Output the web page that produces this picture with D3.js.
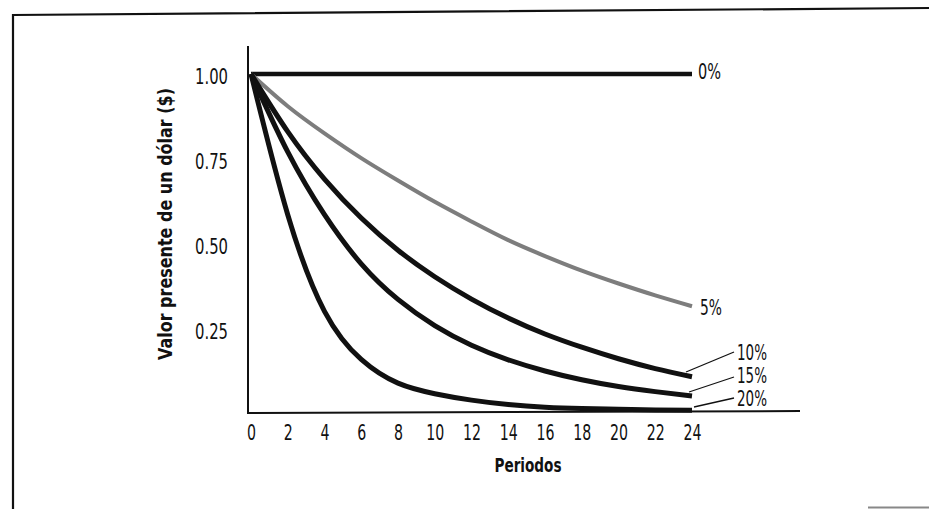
<!DOCTYPE html>
<html>
<head>
<meta charset="utf-8">
<script src="https://cdn.jsdelivr.net/npm/d3@7"></script>
<style>
  html, body { margin: 0; padding: 0; background: #fff; }
  svg { display: block; }
  text { font-family: "DejaVu Sans Condensed", "Liberation Sans Narrow", "DejaVu Sans", sans-serif; font-stretch: condensed; fill: #111; }
</style>
</head>
<body>
<svg id="chart" width="929" height="509"></svg>
<script>
// ---- data ----
const periods = [0, 2, 4, 6, 8, 10, 12, 14, 16, 18, 20, 22, 24];
const rate0  = [1, 1, 1, 1, 1, 1, 1, 1, 1, 1, 1, 1, 1];
const rate5  = [1, 0.905, 0.825, 0.752, 0.686, 0.623, 0.565, 0.51, 0.463, 0.42, 0.382, 0.347, 0.315];
const rate10 = [1, 0.83, 0.69, 0.575, 0.48, 0.402, 0.336, 0.28, 0.233, 0.194, 0.16, 0.131, 0.107];
const rate15 = [1, 0.77, 0.585, 0.44, 0.335, 0.258, 0.20, 0.157, 0.124, 0.098, 0.078, 0.063, 0.05];
const rate20 = [1, 0.585, 0.30, 0.158, 0.088, 0.057, 0.038, 0.025, 0.017, 0.013, 0.011, 0.009, 0.008];
const seriesLabels = ["0%", "5%", "10%", "15%", "20%"];
const xTicks = [0, 2, 4, 6, 8, 10, 12, 14, 16, 18, 20, 22, 24];
const yTicks = [0.25, 0.50, 0.75, 1.00];
const yTitle = "Valor presente de un dólar ($)";
const xTitle = "Periodos";

const series = [
  { label: seriesLabels[0], values: rate0,  color: "#111", width: 4.5 },
  { label: seriesLabels[1], values: rate5,  color: "#7d7d7d", width: 4 },
  { label: seriesLabels[2], values: rate10, color: "#111", width: 5 },
  { label: seriesLabels[3], values: rate15, color: "#111", width: 5 },
  { label: seriesLabels[4], values: rate20, color: "#111", width: 5 }
];

const svg = d3.select("#chart");

// frame of the scanned page
svg.append("path").attr("d", "M13,509 L13,15 L929,8").attr("fill", "none")
  .attr("stroke", "#111").attr("stroke-width", 2.2);
svg.append("line").attr("x1", 868).attr("x2", 929).attr("y1", 507.5).attr("y2", 507.5)
  .attr("stroke", "#888").attr("stroke-width", 2);

const x = d3.scaleLinear().domain([0, 24]).range([251, 692]);
const y = d3.scaleLinear().domain([0, 1]).range([413, 74]);

// axes lines
svg.append("line").attr("x1", 248).attr("x2", 248).attr("y1", 46).attr("y2", 414)
  .attr("stroke", "#111").attr("stroke-width", 2);
svg.append("line").attr("x1", 247).attr("x2", 800).attr("y1", 413).attr("y2", 411)
  .attr("stroke", "#111").attr("stroke-width", 2);

// width of condensed glyphs, to mimic the narrow typeface
const narrowWidth = s => s.split("").reduce((w, c) => w + (c === "." ? 6 : 9), 0);

// tick labels via axes
const yAxis = d3.axisLeft(y).tickValues(yTicks).tickFormat(d3.format(".2f")).tickSize(0).tickPadding(20);
const gy = svg.append("g").attr("transform", "translate(248,0)").call(yAxis);
gy.select(".domain").remove();
gy.selectAll("text").attr("font-size", 22).attr("font-family", null).attr("fill", "#111").attr("dy", "0.45em")
  .attr("textLength", function () { return narrowWidth(this.textContent); })
  .attr("lengthAdjust", "spacingAndGlyphs");

const xAxis = d3.axisBottom(x).tickValues(xTicks).tickFormat(d3.format("d")).tickSize(0).tickPadding(11);
const gx = svg.append("g").attr("transform", "translate(0,413)").call(xAxis);
gx.select(".domain").remove();
gx.selectAll("text").attr("font-size", 22).attr("font-family", null).attr("fill", "#111")
  .attr("textLength", function () { return narrowWidth(this.textContent); })
  .attr("lengthAdjust", "spacingAndGlyphs");

// curves
const line = d3.line().x((d, i) => x(periods[i])).y(d => y(d)).curve(d3.curveNatural);
series.forEach(s => {
  svg.append("path").datum(s.values).attr("d", line)
    .attr("fill", "none").attr("stroke", s.color).attr("stroke-width", s.width)
    .attr("stroke-linecap", "butt");
});

// series labels
const labelPos = [
  { lx: 698, ly: 79, w: 23, fs: 22, lead: null },
  { lx: 700, ly: 315, w: 22, fs: 22, lead: null },
  { lx: 737, ly: 360, w: 30, fs: 21, lead: [686, 372, 734, 352] },
  { lx: 737, ly: 383, w: 30, fs: 21, lead: [689, 392, 734, 377] },
  { lx: 737, ly: 406, w: 30, fs: 21, lead: [694, 407, 734, 398] }
];
series.forEach((s, i) => {
  const p = labelPos[i];
  svg.append("text").attr("x", p.lx).attr("y", p.ly).attr("font-size", p.fs)
    .attr("textLength", p.w).attr("lengthAdjust", "spacingAndGlyphs").text(s.label);
  if (p.lead) {
    svg.append("line").attr("x1", p.lead[0]).attr("y1", p.lead[1]).attr("x2", p.lead[2]).attr("y2", p.lead[3])
      .attr("stroke", "#111").attr("stroke-width", 1.3);
  }
});

// titles
svg.append("text").attr("transform", "translate(172,224) rotate(-90)")
  .attr("text-anchor", "middle").attr("font-size", 20).attr("font-weight", "bold")
  .attr("textLength", 272).attr("lengthAdjust", "spacingAndGlyphs").text(yTitle);
svg.append("text").attr("x", 528).attr("y", 472)
  .attr("text-anchor", "middle").attr("font-size", 20).attr("font-weight", "bold")
  .attr("textLength", 67).attr("lengthAdjust", "spacingAndGlyphs").text(xTitle);
</script>
</body>
</html>
